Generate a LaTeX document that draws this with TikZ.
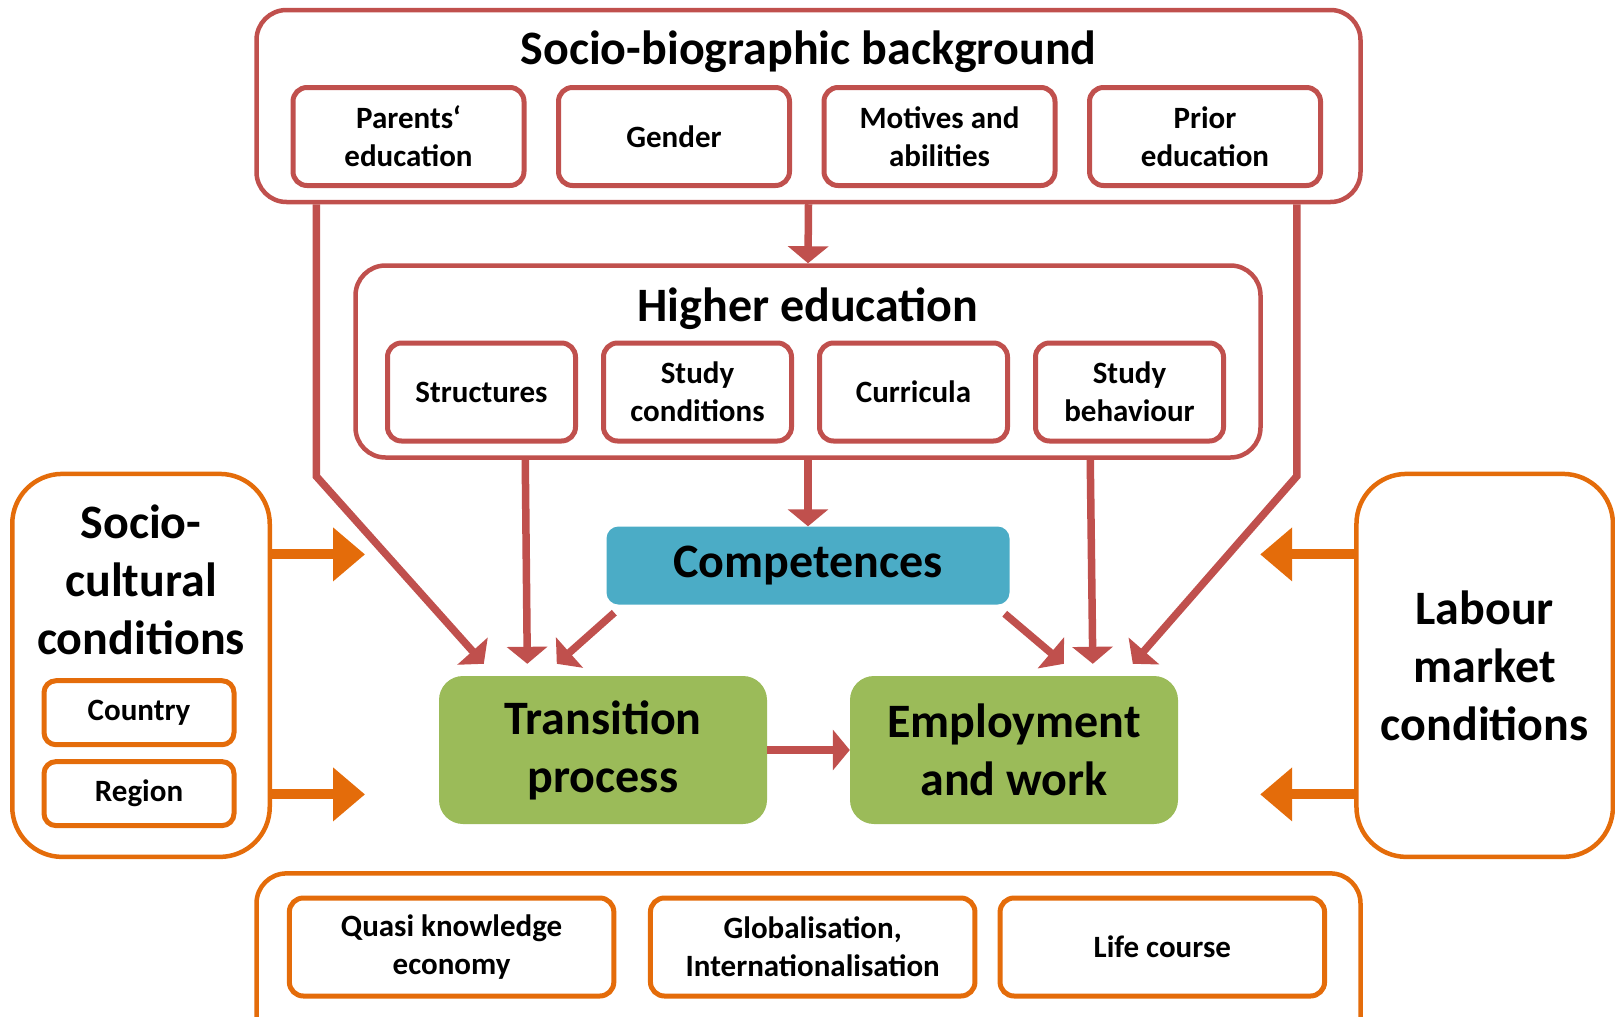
\documentclass[tikz,border=0pt]{standalone}
\usepackage{fontspec}
\setmainfont{Carlito}
\usetikzlibrary{arrows.meta}
\definecolor{rouge}{HTML}{C0504D}
\definecolor{orangec}{HTML}{E46C0A}
\definecolor{vert}{HTML}{9BBB59}
\definecolor{bleu}{HTML}{4BACC6}

\begin{document}
\begin{tikzpicture}[x=1pt,y=-1pt]
\tikzstyle{fleche}=[-{Triangle[width=40pt,length=17pt]},rouge,line width=7.5pt]
\tikzstyle{poussee}=[-{Triangle[width=52pt,length=32pt]},orangec,line width=10pt]
\tikzset{cadre/.style={draw=#1,line width=4.5pt,rounded corners=30pt,inner sep=0pt},
cadre/.default={rouge},
case/.style={draw=#1,line width=5pt,rounded corners=14pt,align=center,inner sep=0pt,
minimum height=98pt,font=\fontsize{31}{38}\selectfont\bfseries},
case/.default={rouge},
bloc/.style={fill=#1,rounded corners=24pt,align=center,inner sep=0pt,
font=\fontsize{48}{58}\selectfont\bfseries},
titre/.style={align=center,font=\fontsize{48}{58}\selectfont\bfseries}}
\clip (0,0) rectangle (1615,1017);

\node [cadre,minimum width=1104pt,minimum height=192pt] (socio) at (808.5,106) {};
\node [titre] (tsocio) at (808.5,52) {Socio-biographic background};
\node [case,minimum width=231pt] (parents) at (408.5,136.5) {Parents‘\\education};
\node [case,minimum width=231pt] (genre) at (674,136.5) {Gender};
\node [case,minimum width=231pt] (motifs) at (939.5,136.5) {Motives and\\abilities};
\node [case,minimum width=231pt] (prior) at (1205,136.5) {Prior\\education};

\node [cadre,minimum width=905pt,minimum height=192pt] (hautens) at (808,361.5) {};
\node [titre] (thautens) at (808,309) {Higher education};
\node [case,minimum width=188pt] (struct) at (481.5,392) {Structures};
\node [case,minimum width=188pt] (condit) at (697.5,392) {Study\\conditions};
\node [case,minimum width=188pt] (curric) at (913.5,392) {Curricula};
\node [case,minimum width=188pt] (comport) at (1129.5,392) {Study\\behaviour};

\node [bloc=bleu,rounded corners=12pt,minimum width=403pt,minimum height=78pt] (comp) at (808,565.5) {Competences};
\node [bloc=vert,minimum width=328pt,minimum height=148pt] (trans) at (603,750) {Transition\\process};
\node [bloc=vert,minimum width=328pt,minimum height=148pt] (emp) at (1014,750) {Employment\\and work};

\node [cadre=orangec,rounded corners=50pt,minimum width=257.5pt,minimum height=383pt] (soccult) at (141,665.4) {};
\node [titre] (tsoccult) at (141,580) {Socio-\\cultural\\conditions};
\node [case=orangec,rounded corners=12pt,minimum width=190pt,minimum height=64pt] (pays) at (139,712.7) {Country};
\node [case=orangec,rounded corners=12pt,minimum width=190pt,minimum height=64pt] (region) at (139,793.6) {Region};

\node [cadre=orangec,rounded corners=50pt,minimum width=256.5pt,minimum height=383pt] (marche) at (1484.7,665.4) {};
\node [titre] (tmarche) at (1484.7,666) {Labour\\market\\conditions};

\node [cadre=orangec,minimum width=1104pt,minimum height=192pt] (contexte) at (808.5,969.4) {};
\node [case=orangec,minimum width=324.5pt] (savoir) at (451.6,947) {Quasi knowledge\\economy};
\node [case=orangec,minimum width=324.5pt] (global) at (812.7,947) {Globalisation,\\Internationalisation};
\node [case=orangec,minimum width=324.5pt] (vie) at (1162.3,947) {Life course};

\draw [fleche] (socio.south) -- (hautens.north);
\draw [fleche] (hautens.south) -- (comp.north);
\draw [fleche] ([xshift=62pt]socio.south west) -- ++(0,272) -- ([xshift=45pt,yshift=12pt]trans.north west);
\draw [fleche] ([xshift=172pt]hautens.south west) -- ([xshift=88.5pt,yshift=12pt]trans.north west);
\draw [fleche] ([xshift=8pt,yshift=-8pt]comp.south west) -- ([xshift=118pt,yshift=12pt]trans.north west);
\draw [fleche] ([xshift=-5pt,yshift=-9pt]comp.south east) -- ([xshift=214pt,yshift=12pt]emp.north west);
\draw [fleche] ([xshift=737pt]hautens.south west) -- ([xshift=243pt,yshift=12pt]emp.north west);
\draw [fleche] ([xshift=-66pt]socio.south east) -- ++(0,272) -- ([xshift=283pt,yshift=12pt]emp.north west);
\draw [fleche] (trans.east) -- (emp.west);

\draw [poussee] ([yshift=111pt]soccult.east) -- ++(93,0);
\draw [poussee] ([yshift=-129pt]soccult.east) -- ++(93,0);
\draw [poussee] ([yshift=111pt]marche.west) -- ++(-94,0);
\draw [poussee] ([yshift=-129pt]marche.west) -- ++(-94,0);
\end{tikzpicture}
\end{document}
